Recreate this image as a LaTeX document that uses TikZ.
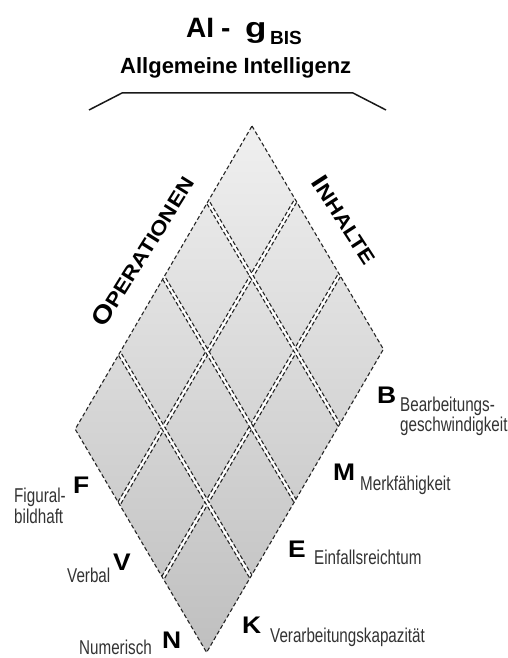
\documentclass[tikz,border=0pt]{standalone}
\usepackage{fontspec}
\setmainfont{Liberation Sans}
\usepackage{graphicx}
\usetikzlibrary{calc}
\newcommand\smtxt[1]{\scalebox{0.76}[1]{\fontsize{20}{22}\selectfont #1}}
\newcommand\bgltr[1]{\scalebox{1.1}[1]{\fontsize{24}{24}\selectfont\bfseries #1}}
\begin{document}
\begin{tikzpicture}[x=1pt,y=-1pt,
  cellline/.style={draw=black!85, line width=1.1pt, dash pattern=on 4pt off 2.5pt},
  gapline/.style={draw=white, line width=2.6pt},
  lbl/.style={anchor=base west, inner sep=0pt, text=black!80},
  big/.style={anchor=base west, inner sep=0pt, text=black},
]
\useasboundingbox (0,0) rectangle (508,658);
\fill[white] (0,0) rectangle (508,658);

% grid geometry
\coordinate (T) at (252,126);
\coordinate (va) at (43.8,74.4);
\coordinate (vb) at (-44.2,75.8);
\coordinate (R) at ($(T)+3*(va)$);
\coordinate (L) at ($(T)+4*(vb)$);
\coordinate (Bt) at ($(T)+3*(va)+4*(vb)$);

\shade[top color=gray!12, bottom color=gray!50] (T) -- (R) -- (Bt) -- (L) -- cycle;

\begin{scope}
\clip (T) -- (R) -- (Bt) -- (L) -- cycle;
\foreach \i in {1,2} {
  \coordinate (p0) at ($(T)+\i*(va)$);
  \coordinate (q0) at ($(T)+\i*(va)+4*(vb)$);
  \coordinate (p) at ($(p0)!-5pt!(q0)$);
  \coordinate (q) at ($(q0)!-5pt!(p0)$);
  \draw[gapline] (p) -- (q);
  \draw[cellline] ($(p)!1.7pt!90:(q)$) -- ($(q)!1.7pt!-90:(p)$);
  \draw[cellline] ($(p)!1.7pt!-90:(q)$) -- ($(q)!1.7pt!90:(p)$);
}
\foreach \j in {1,2,3} {
  \coordinate (p0) at ($(T)+\j*(vb)$);
  \coordinate (q0) at ($(T)+\j*(vb)+3*(va)$);
  \coordinate (p) at ($(p0)!-5pt!(q0)$);
  \coordinate (q) at ($(q0)!-5pt!(p0)$);
  \draw[gapline] (p) -- (q);
  \draw[cellline] ($(p)!1.7pt!90:(q)$) -- ($(q)!1.7pt!-90:(p)$);
  \draw[cellline] ($(p)!1.7pt!-90:(q)$) -- ($(q)!1.7pt!90:(p)$);
}
\end{scope}
\draw[cellline, line join=round] (T) -- (R) -- (Bt) -- (L) -- cycle;

% bracket
\coordinate (k1) at (89,110);
\coordinate (k2) at (122,93);
\coordinate (k3) at (353,93);
\coordinate (k4) at (386,110);
\draw[line width=1.5pt, black!90] (k1) -- (k2) -- (k3) -- (k4);

% title
\node[big] (tAI) at (186,38) {\fontsize{28}{28}\selectfont\bfseries AI};
\node[big] (tdash) at (221,38) {\fontsize{28}{28}\selectfont\bfseries -};
\node[big] (tg) at (245,38) {\scalebox{1.25}[1]{\fontsize{28}{28}\selectfont\bfseries g}};
\node[big] (tbis) at (270,45) {\fontsize{19}{19}\selectfont\bfseries BIS};
\node[big] (tsub) at (120,74) {\fontsize{22}{22}\selectfont\bfseries Allgemeine Intelligenz};

% axis titles
\node[rotate=58, inner sep=0pt] (ops) at (143,251)
  {\scalebox{1.15}[1]{\bfseries\fontsize{25}{25}\selectfont O\fontsize{20}{20}\selectfont PERATIONEN}};
\node[rotate=-57, inner sep=0pt] (inh) at (345,220)
  {\scalebox{1.15}[1]{\bfseries\fontsize{25}{25}\selectfont I\fontsize{20}{20}\selectfont NHALTE}};

% right labels
\node[big] (B) at (377,403) {\bgltr{B}};
\node[lbl] (Bt1) at (400,411) {\smtxt{Bearbeitungs-}};
\node[lbl] (Bt2) at (400,431) {\smtxt{geschwindigkeit}};
\node[big] (M) at (333,480) {\bgltr{M}};
\node[lbl] (Mt) at (360,490) {\smtxt{Merkfähigkeit}};
\node[big] (E) at (288,557) {\bgltr{E}};
\node[lbl] (Et) at (314,564) {\smtxt{Einfallsreichtum}};
\node[big] (K) at (242,633) {\bgltr{K}};
\node[lbl] (Kt) at (270,642) {\smtxt{Verarbeitungskapazität}};

% left labels
\node[big] (F) at (73,493) {\bgltr{F}};
\node[lbl] (Ft1) at (14,502) {\smtxt{Figural-}};
\node[lbl] (Ft2) at (14,523) {\smtxt{bildhaft}};
\node[big] (V) at (113,570) {\bgltr{V}};
\node[lbl] (Vt) at (67,582) {\smtxt{Verbal}};
\node[big] (N) at (162,648) {\bgltr{N}};
\node[lbl] (Nt) at (79,654.5) {\smtxt{Numerisch}};
\end{tikzpicture}
\end{document}
